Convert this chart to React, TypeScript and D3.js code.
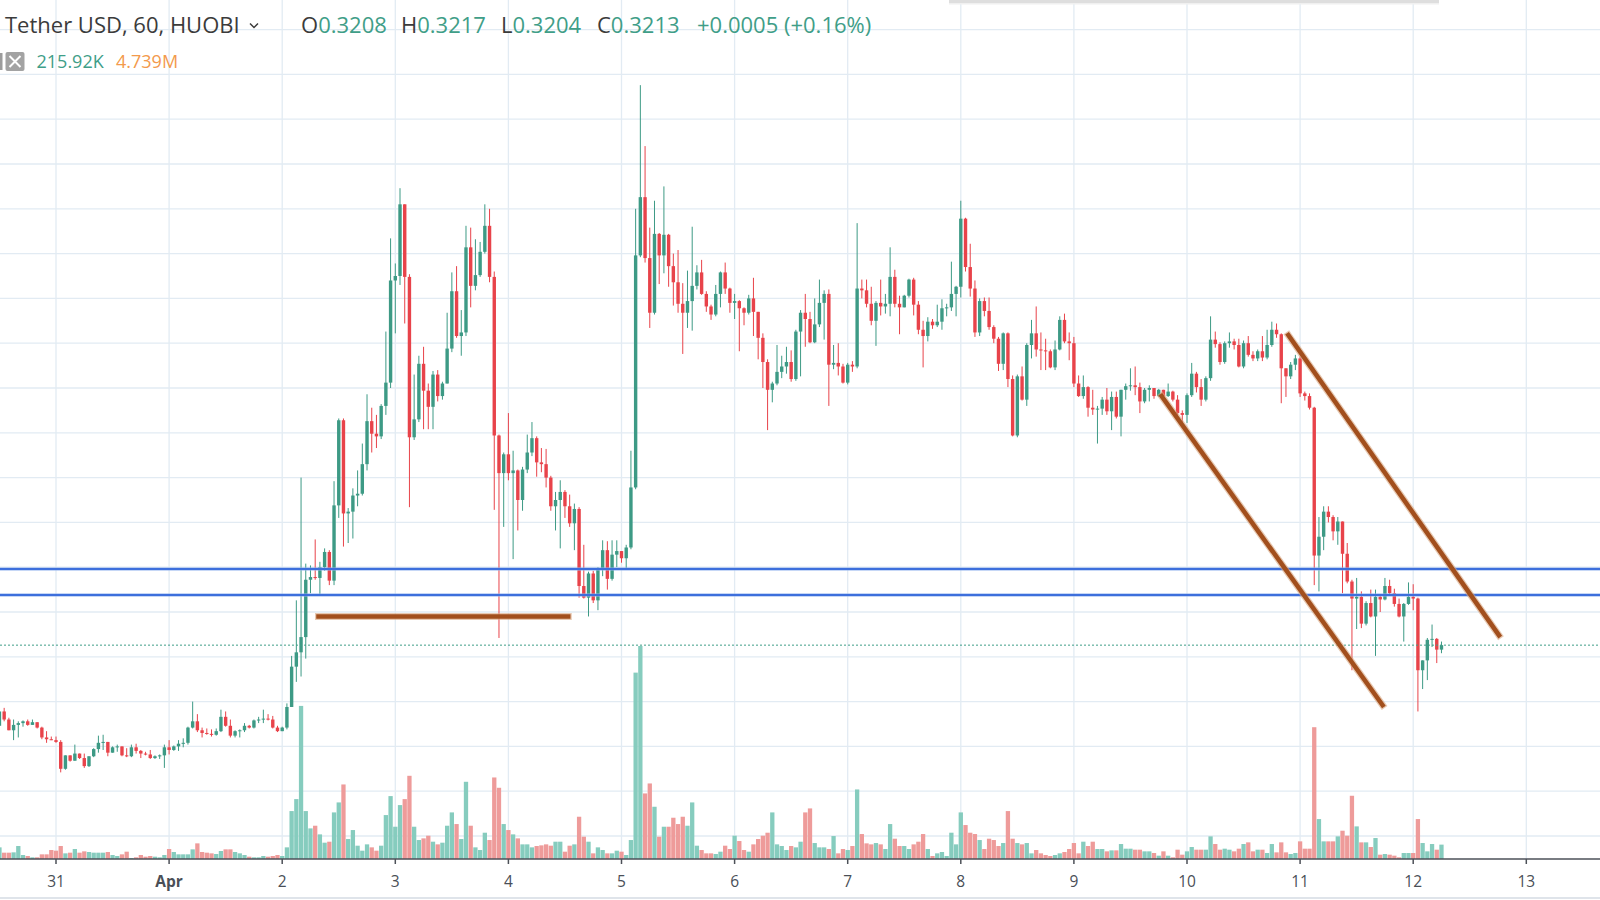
import React from "react";
import * as d3 from "d3";

// ---------- data ----------
const FIRST_CANDLE = Date.UTC(2019, 2, 30, 12); // Mar 30 12:00, hourly candles
const HOUR = 3600e3;
const firstOpen = 0.3123;

const closes = [
  .3139,.3130,.3118,.3124,.3126,.3128,.3124,.3127,.3121,.3110,.3108,.3107,
  .3105,.3075,.3090,.3084,.3092,.3087,.3078,.3089,.3097,.3104,.3105,.3093,
  .3099,.3100,.3090,.3089,.3099,.3095,.3092,.3091,.3087,.3089,.3090,.3099,
  .3096,.3100,.3103,.3104,.3121,.3128,.3118,.3115,.3114,.3113,.3117,.3133,
  .3123,.3112,.3117,.3118,.3123,.3121,.3129,.3130,.3131,.3130,.3121,.3117,
  .3121,.3144,.3189,.3205,.3222,.3286,.3289,.3288,.3300,.3317,.3285,.3369,
  .3464,.3360,.3362,.3380,.3382,.3415,.3463,.3449,.3446,.3480,.3506,.3620,
  .3625,.3705,.3624,.3445,.3465,.3527,.3497,.3479,.3515,.3491,.3505,.3544,
  .3608,.3558,.3562,.3657,.3614,.3626,.3652,.3681,.3624,.3447,.3405,.3426,
  .3405,.3408,.3375,.3409,.3428,.3444,.3417,.3415,.3400,.3368,.3375,.3384,
  .3368,.3349,.3365,.3279,.3266,.3293,.3263,.3299,.3319,.3287,.3314,.3318,
  .3310,.3322,.3389,.3648,.3713,.3645,.3584,.3672,.3648,.3671,.3636,.3618,
  .3594,.3584,.3597,.3614,.3629,.3605,.3591,.3582,.3605,.3629,.3611,.3595,
  .3597,.3589,.3584,.3600,.3585,.3556,.3529,.3498,.3505,.3518,.3524,.3529,
  .3510,.3563,.3584,.3577,.3551,.3571,.3595,.3605,.3526,.3528,.3524,.3506,
  .3526,.3524,.3611,.3609,.3594,.3575,.3595,.3591,.3594,.3624,.3594,.3590,
  .3603,.3621,.3593,.3565,.3558,.3574,.3570,.3574,.3589,.3590,.3605,.3613,
  .3689,.3635,.3611,.3562,.3597,.3586,.3568,.3555,.3527,.3561,.3510,.3447,
  .3513,.3487,.3548,.3561,.3543,.3542,.3541,.3523,.3543,.3576,.3552,.3550,
  .3505,.3491,.3501,.3478,.3476,.3477,.3487,.3474,.3490,.3468,.3498,.3502,
  .3503,.3501,.3485,.3498,.3500,.3491,.3498,.3491,.3496,.3487,.3472,.3470,
  .3492,.3516,.3501,.3487,.3511,.3554,.3549,.3529,.3550,.3552,.3548,.3524,
  .3550,.3537,.3533,.3541,.3534,.3548,.3565,.3560,.3522,.3513,.3526,.3533,
  .3494,.3491,.3478,.3313,.3334,.3362,.3356,.3340,.3351,.3315,.3284,.3265,
  .3267,.3237,.3260,.3245,.3267,.3264,.3279,.3271,.3259,.3245,.3259,.3267,
  .3265,.3185,.3196,.3219,.3220,.3208,.3213,
];

const highs = [
  .3150,.3143,.3132,.3130,.3128,.3129,.3130,.3130,.3126,.3122,.3117,.3111,
  .3111,.3107,.3090,.3089,.3102,.3092,.3092,.3089,.3098,.3112,.3113,.3105,
  .3100,.3102,.3100,.3098,.3102,.3103,.3096,.3094,.3096,.3090,.3091,.3102,
  .3107,.3101,.3107,.3109,.3122,.3150,.3136,.3121,.3120,.3119,.3120,.3141,
  .3139,.3130,.3118,.3119,.3126,.3124,.3130,.3133,.3141,.3136,.3134,.3123,
  .3122,.3148,.3201,.3263,.3400,.3304,.3302,.3331,.3306,.3321,.3319,.3396,
  .3466,.3466,.3366,.3388,.3408,.3438,.3493,.3478,.3470,.3482,.3563,.3667,
  .3639,.3723,.3705,.3627,.3515,.3536,.3546,.3505,.3519,.3520,.3507,.3584,
  .3629,.3636,.3587,.3681,.3679,.3666,.3663,.3705,.3700,.3630,.3448,.3428,
  .3472,.3430,.3409,.3412,.3448,.3462,.3446,.3433,.3432,.3402,.3384,.3397,
  .3386,.3381,.3371,.3367,.3325,.3295,.3296,.3300,.3330,.3329,.3330,.3330,
  .3318,.3325,.3430,.3700,.3838,.3770,.3679,.3709,.3673,.3725,.3672,.3650,
  .3654,.3617,.3631,.3680,.3637,.3643,.3608,.3593,.3615,.3630,.3640,.3612,
  .3605,.3598,.3590,.3604,.3623,.3577,.3561,.3532,.3507,.3548,.3536,.3546,
  .3542,.3565,.3587,.3605,.3585,.3600,.3621,.3609,.3610,.3548,.3550,.3527,
  .3528,.3530,.3684,.3621,.3621,.3613,.3597,.3621,.3605,.3657,.3632,.3603,
  .3604,.3622,.3623,.3597,.3575,.3579,.3577,.3593,.3599,.3594,.3641,.3614,
  .3709,.3690,.3661,.3620,.3600,.3601,.3601,.3570,.3557,.3562,.3562,.3514,
  .3515,.3524,.3550,.3576,.3591,.3562,.3555,.3543,.3553,.3580,.3583,.3562,
  .3557,.3514,.3514,.3502,.3498,.3480,.3490,.3500,.3496,.3496,.3498,.3505,
  .3522,.3524,.3506,.3500,.3503,.3500,.3499,.3498,.3505,.3497,.3492,.3475,
  .3494,.3528,.3518,.3510,.3513,.3580,.3563,.3551,.3552,.3562,.3555,.3555,
  .3553,.3558,.3541,.3543,.3558,.3565,.3574,.3572,.3561,.3522,.3529,.3537,
  .3535,.3496,.3494,.3479,.3356,.3368,.3368,.3358,.3356,.3351,.3327,.3286,
  .3288,.3273,.3262,.3275,.3275,.3269,.3288,.3286,.3276,.3265,.3260,.3283,
  .3281,.3266,.3196,.3221,.3236,.3221,.3217,
];

const lows = [
  .3123,.3128,.3118,.3107,.3110,.3122,.3123,.3124,.3120,.3108,.3104,.3107,
  .3104,.3071,.3074,.3083,.3084,.3086,.3076,.3077,.3088,.3093,.3096,.3089,
  .3093,.3094,.3089,.3088,.3088,.3092,.3087,.3090,.3086,.3086,.3086,.3076,
  .3091,.3095,.3095,.3099,.3102,.3120,.3116,.3110,.3113,.3111,.3112,.3116,
  .3122,.3110,.3110,.3110,.3116,.3120,.3120,.3126,.3126,.3129,.3120,.3116,
  .3117,.3119,.3144,.3172,.3178,.3198,.3271,.3286,.3269,.3296,.3280,.3280,
  .3355,.3323,.3327,.3332,.3368,.3380,.3408,.3428,.3433,.3443,.3470,.3500,
  .3561,.3615,.3572,.3367,.3442,.3462,.3454,.3454,.3454,.3485,.3487,.3505,
  .3540,.3556,.3536,.3558,.3590,.3609,.3624,.3650,.3618,.3364,.3221,.3345,
  .3397,.3309,.3341,.3363,.3405,.3424,.3401,.3406,.3389,.3363,.3341,.3321,
  .3355,.3345,.3319,.3266,.3265,.3245,.3260,.3252,.3290,.3275,.3285,.3300,
  .3305,.3299,.3320,.3387,.3646,.3640,.3567,.3582,.3616,.3628,.3613,.3592,
  .3584,.3538,.3567,.3564,.3610,.3604,.3585,.3576,.3580,.3590,.3605,.3584,
  .3577,.3541,.3570,.3582,.3558,.3532,.3500,.3453,.3484,.3503,.3511,.3516,
  .3507,.3508,.3513,.3546,.3550,.3550,.3568,.3554,.3480,.3521,.3514,.3505,
  .3504,.3518,.3522,.3600,.3590,.3570,.3547,.3581,.3583,.3580,.3590,.3560,
  .3590,.3601,.3581,.3560,.3523,.3552,.3566,.3568,.3565,.3580,.3586,.3580,
  .3601,.3630,.3602,.3557,.3558,.3580,.3565,.3550,.3519,.3520,.3501,.3446,
  .3445,.3486,.3480,.3533,.3535,.3520,.3520,.3522,.3520,.3542,.3550,.3531,
  .3501,.3490,.3488,.3468,.3470,.3438,.3470,.3470,.3453,.3466,.3446,.3487,
  .3497,.3492,.3472,.3483,.3485,.3488,.3490,.3488,.3490,.3485,.3470,.3460,
  .3461,.3490,.3495,.3480,.3485,.3508,.3545,.3526,.3527,.3545,.3543,.3523,
  .3522,.3535,.3530,.3530,.3530,.3532,.3546,.3556,.3483,.3490,.3510,.3520,
  .3490,.3486,.3476,.3280,.3273,.3319,.3350,.3330,.3325,.3271,.3282,.3185,
  .3231,.3232,.3235,.3244,.3201,.3250,.3263,.3269,.3256,.3244,.3217,.3258,
  .3252,.3139,.3164,.3174,.3211,.3193,.3204,
];

// volume in thousands
const volumesK = [
  175,95,95,100,195,60,45,25,25,70,70,135,
  125,195,85,95,150,95,115,105,95,95,95,105,
  60,45,70,110,15,25,60,35,45,35,25,60,
  150,105,70,70,70,145,235,105,95,85,75,120,
  145,145,105,85,60,35,25,25,45,35,45,60,
  45,175,720,900,2300,720,460,500,370,245,260,700,
  850,1120,300,435,200,125,220,175,125,200,660,945,
  485,810,900,1250,485,285,310,350,260,220,245,500,
  700,525,300,1160,500,175,135,395,285,1225,1070,525,
  435,370,310,220,220,175,195,205,220,200,260,260,
  110,200,220,635,335,260,85,175,135,85,85,125,
  110,60,285,2800,3200,985,1135,785,335,485,485,620,
  525,635,500,850,200,135,85,85,75,110,200,150,
  350,270,135,110,220,300,350,395,700,220,195,135,
  195,175,260,700,760,240,175,175,150,345,85,150,
  135,195,1045,375,235,220,240,220,150,525,305,195,
  195,150,220,260,375,150,45,85,105,45,395,220,
  700,510,395,375,285,150,305,285,195,240,720,305,
  240,220,240,85,135,85,60,45,60,85,105,150,
  240,85,260,195,260,150,150,115,130,130,225,155,
  155,140,140,115,115,90,50,115,50,25,140,65,
  115,180,140,140,140,340,225,140,155,140,115,155,
  225,250,115,140,140,90,225,100,250,100,75,90,
  265,155,155,1980,600,265,265,265,340,425,350,950,
  490,250,250,180,315,65,75,65,50,25,90,90,
  90,600,240,115,225,140,216,
];

const dayLabels = ["31", "Apr", "2", "3", "4", "5", "6", "7", "8", "9", "10", "11", "12", "13"];
const supportLevels = [0.3298, 0.3269];
const lastPrice = 0.3213;

const brownLines = [
  { t1: Date.UTC(2019, 3, 2, 7, 42), p1: 0.3245, t2: Date.UTC(2019, 3, 4, 12, 42), p2: 0.3245 },
  { t1: Date.UTC(2019, 3, 9, 18, 36), p1: 0.3491, t2: Date.UTC(2019, 3, 11, 17, 30), p2: 0.3146 },
  { t1: Date.UTC(2019, 3, 10, 21, 30), p1: 0.3559, t2: Date.UTC(2019, 3, 12, 18, 12), p2: 0.3224 },
];

const legend = { symbol: "Tether USD, 60, HUOBI", o: "0.3208", h: "0.3217", l: "0.3204", c: "0.3213", chg: "+0.0005 (+0.16%)", vol: "215.92K", volMa: "4.739M" };

// ---------- chart ----------
const W = 1600, H = 900;
const UP = "#3d9a85", DOWN = "#e8434a";
const VUP = "#86ccbe", VDOWN = "#ee9b9a";
const GRID = "#e2ebf3";
const TEAL = "#3f9e88";
const FONT = "'Open Sans', 'Liberation Sans', sans-serif";

export default function App() {
  const x = d3.scaleUtc()
    .domain([new Date(Date.UTC(2019, 2, 31)), new Date(Date.UTC(2019, 3, 13))])
    .range([56, 56 + 13 * 113.1]);
  const y = d3.scaleLinear().domain([0.30, 0.40]).range([836, -60]);
  const axisY = 859;
  const yVol = d3.scaleLinear().domain([0, d3.max(volumesK) as number]).range([axisY, 646]);

  const candles = closes.map((c, i) => {
    const o = i === 0 ? firstOpen : closes[i - 1];
    return { t: new Date(FIRST_CANDLE + i * HOUR), o, h: highs[i], l: lows[i], c, v: volumesK[i] };
  });

  const gridPrices = d3.range(60, 80).map((k) => k * 0.005);
  const days = d3.utcDay.range(new Date(Date.UTC(2019, 2, 31)), new Date(Date.UTC(2019, 3, 14)));

  const bodyW = 3.4;
  const volW = 4.3;
  const hdr = 22;

  return (
    <svg width={W} height={H} style={{ position: "fixed", left: 0, top: 0, background: "#fff" }}>
      <rect x={0} y={0} width={W} height={H} fill="#ffffff" />
      {/* grid */}
      {gridPrices.map((p, i) => (
        <line key={"hg" + i} x1={0} x2={W} y1={y(p)} y2={y(p)} stroke={GRID} strokeWidth={1.3} />
      ))}
      {days.map((d, i) => (
        <line key={"vg" + i} x1={x(d)} x2={x(d)} y1={0} y2={axisY} stroke={GRID} strokeWidth={1.3} />
      ))}
      {/* top shadow of a panel */}
      <rect x={949} y={0} width={490} height={3} fill="#dedede" />
      <rect x={949} y={3} width={490} height={1.5} fill="#f0f0f0" />

      {/* volume */}
      {candles.map((d, i) => (
        <rect key={"v" + i} x={x(d.t) - volW / 2} y={yVol(d.v)} width={volW}
          height={axisY - yVol(d.v)} fill={d.c >= d.o ? VUP : VDOWN} />
      ))}

      {/* candles */}
      {candles.map((d, i) => {
        const col = d.c >= d.o ? UP : DOWN;
        const cx = x(d.t);
        const top = Math.max(d.h, d.o, d.c), bot = Math.min(d.l, d.o, d.c);
        const y1 = y(Math.max(d.o, d.c)), y2 = y(Math.min(d.o, d.c));
        return (
          <g key={"c" + i}>
            <line x1={cx} x2={cx} y1={y(top)} y2={y(bot)} stroke={col} strokeWidth={1} />
            <rect x={cx - bodyW / 2} y={y1} width={bodyW} height={Math.max(1, y2 - y1)} fill={col} />
          </g>
        );
      })}

      {/* last price dashed line */}
      <line x1={0} x2={W} y1={y(lastPrice)} y2={y(lastPrice)} stroke={TEAL} strokeWidth={1} strokeDasharray="2 2" />

      {/* horizontal blue levels */}
      {supportLevels.map((p, i) => (
        <g key={"b" + i}>
          <line x1={0} x2={W} y1={y(p)} y2={y(p)} stroke="#8fb0ee" strokeWidth={4} opacity={0.5} />
          <line x1={0} x2={W} y1={y(p)} y2={y(p)} stroke="#3d6fdc" strokeWidth={2} />
        </g>
      ))}

      {/* brown drawings */}
      {brownLines.map((b, i) => (
        <g key={"br" + i}>
          <line x1={x(new Date(b.t1))} y1={y(b.p1)} x2={x(new Date(b.t2))} y2={y(b.p2)}
            stroke="#d8a57e" strokeWidth={7} strokeLinecap="square" opacity={0.6} />
          <line x1={x(new Date(b.t1))} y1={y(b.p1)} x2={x(new Date(b.t2))} y2={y(b.p2)}
            stroke="#a24f1d" strokeWidth={4.5} strokeLinecap="square" />
        </g>
      ))}

      {/* x axis */}
      <rect x={0} y={axisY} width={W} height={H - axisY} fill="#fff" />
      <line x1={0} x2={W} y1={axisY} y2={axisY} stroke="#4d5158" strokeWidth={1.5} />
      <line x1={0} x2={W} y1={898} y2={898} stroke="#dfe4ea" strokeWidth={2} />
      {days.map((d, i) => (
        <g key={"t" + i}>
          <line x1={x(d)} x2={x(d)} y1={axisY} y2={axisY + 5} stroke="#4d5158" strokeWidth={1.5} />
          <text x={x(d)} y={887} textAnchor="middle" fontFamily={FONT} fontSize={15.5}
            fontWeight={dayLabels[i] === "Apr" ? 700 : 400} fill="#4a4f57">{dayLabels[i]}</text>
        </g>
      ))}

      {/* legend */}
      <text x={5} y={33} fontFamily={FONT} fontSize={hdr} fill="#3b3b3b">{legend.symbol}</text>
      <path d="M250,23.5 L254,27.5 L258,23.5" fill="none" stroke="#3b3b3b" strokeWidth={1.5} />
      <text x={301} y={33} fontFamily={FONT} fontSize={hdr}>
        <tspan fill="#3b3b3b">O</tspan><tspan fill={TEAL}>{legend.o}</tspan>
      </text>
      <text x={401} y={33} fontFamily={FONT} fontSize={hdr}>
        <tspan fill="#3b3b3b">H</tspan><tspan fill={TEAL}>{legend.h}</tspan>
      </text>
      <text x={501} y={33} fontFamily={FONT} fontSize={hdr}>
        <tspan fill="#3b3b3b">L</tspan><tspan fill={TEAL}>{legend.l}</tspan>
      </text>
      <text x={597} y={33} fontFamily={FONT} fontSize={hdr}>
        <tspan fill="#3b3b3b">C</tspan><tspan fill={TEAL}>{legend.c}</tspan>
      </text>
      <text x={697} y={33} fontFamily={FONT} fontSize={hdr} fill={TEAL}>{legend.chg}</text>

      <rect x={0} y={53} width={2.5} height={17} fill="#9c9c9c" />
      <rect x={5.5} y={52} width={19} height={19} rx={2} fill="#a3a3a3" />
      <path d="M9.5,56 L20.5,67 M20.5,56 L9.5,67" stroke="#fff" strokeWidth={2} />
      <text x={36.5} y={68} fontFamily={FONT} fontSize={18} fill={TEAL}>{legend.vol}</text>
      <text x={116} y={68} fontFamily={FONT} fontSize={18} fill="#f39a4c">{legend.volMa}</text>
    </svg>
  );
}
